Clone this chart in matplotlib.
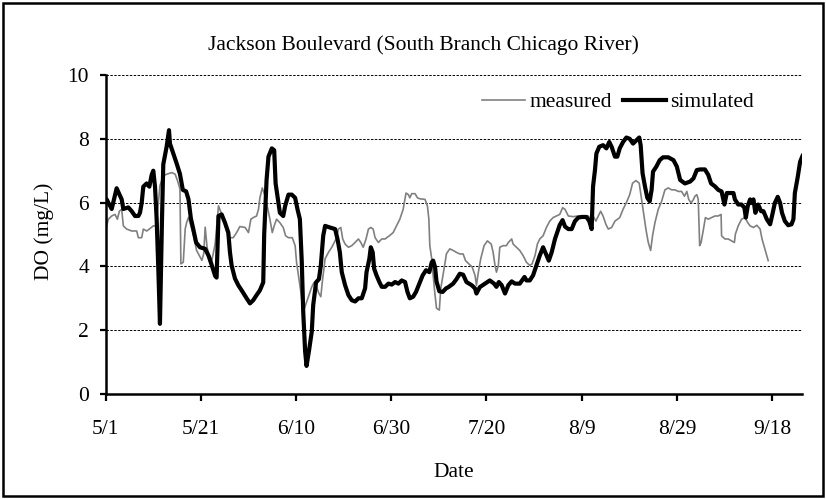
#!/usr/bin/env python3
# DO at Jackson Boulevard, measured vs simulated (Excel-style line chart)

import numpy as np
import matplotlib
matplotlib.use("Agg")
import matplotlib.pyplot as plt
from matplotlib.patches import Rectangle

# ----------------------------- data (days after 5/1, DO mg/L) ----------------

sim_day = [0.0, 0.2, 1.26, 2.3, 3.36, 3.7, 4.76, 5.46, 6.16, 6.86, 7.2, 7.56, 7.9, 8.6,
           9.17, 9.66, 10.0, 10.36, 10.7, 11.06, 11.4, 11.83, 12.1, 12.8, 13.3, 13.5,
           14.2, 14.9, 15.6, 16.2, 16.9, 17.4, 17.9, 18.4, 19.0, 19.8, 20.9, 21.6,
           22.3, 23.0, 23.3, 23.7, 24.36, 25.06, 25.76, 26.11, 26.46, 27.16, 27.86,
           28.56, 29.61, 30.31, 31.0, 31.7, 32.4, 33.1, 33.3, 33.8, 34.2, 34.9, 35.4,
           35.7, 36.3, 36.6, 37.3, 37.7, 38.4, 39.1, 39.8, 40.3, 40.8, 41.2, 41.5,
           41.9, 42.2, 42.7, 43.3, 43.6, 44.2, 44.8, 45.2, 45.7, 46.1, 47.1, 48.2,
           48.7, 49.2, 49.6, 50.3, 51.0, 51.7, 52.4, 53.1, 53.8, 54.5, 54.8, 55.4,
           55.7, 56.1, 56.4, 56.9, 57.5, 58.0, 58.7, 59.4, 60.1, 60.8, 61.5, 62.2,
           62.9, 63.4, 63.9, 64.6, 65.2, 65.9, 66.6, 67.3, 68.0, 68.5, 68.8, 69.2,
           69.5, 70.1, 70.8, 71.5, 72.0, 73.0, 73.7, 74.4, 75.1, 75.8, 76.9, 77.6,
           77.9, 78.6, 79.7, 80.7, 81.6, 82.1, 82.6, 83.2, 83.9, 84.6, 85.3, 86.0,
           87.0, 88.0, 88.4, 89.1, 89.8, 90.5, 91.2, 91.9, 92.5, 93.1, 93.7, 94.4,
           95.1, 95.4, 96.0, 96.5, 97.2, 97.9, 98.6, 99.3, 100.0, 101.0, 101.6,
           102.1, 102.4, 102.8, 103.1, 103.7, 104.5, 105.2, 105.8, 106.3, 107.0,
           107.5, 108.0, 108.7, 109.4, 110.1, 110.8, 111.5, 112.1, 112.4, 112.8,
           113.3, 113.8, 114.3, 114.7, 115.0, 115.7, 116.4, 117.1, 118.2, 119.3,
           120.0, 120.7, 121.7, 122.8, 123.5, 124.2, 124.9, 125.9, 126.6, 127.2,
           128.0, 128.7, 129.4, 130.0, 130.5, 131.2, 131.9, 132.2, 132.9, 133.6,
           134.2, 134.5, 134.9, 135.4, 135.7, 136.1, 136.5, 137.1, 137.7, 138.2,
           138.9, 139.6, 140.0, 140.6, 141.2, 141.7, 142.1, 142.7, 143.4, 144.1,
           144.5, 144.8, 145.4, 145.9, 146.4]
sim_do = [6.1, 6.1, 5.8, 6.45, 6.1, 5.8, 5.85, 5.73, 5.58, 5.58, 5.68, 5.99, 6.5, 6.6,
          6.5, 6.87, 7.0, 6.5, 5.5, 3.9, 2.2, 5.5, 7.2, 7.75, 8.27, 7.85,
          7.54, 7.23, 6.9, 6.4, 6.35, 6.1, 5.5, 5.17, 4.75, 4.6, 4.55, 4.34,
          4.03, 3.7, 3.65, 5.58, 5.63, 5.37, 5.06, 4.44, 4.03, 3.62, 3.41,
          3.25, 3.0, 2.84, 2.94, 3.1, 3.25, 3.5, 5.0, 6.71, 7.44, 7.7, 7.64,
          6.6, 5.99, 5.68, 5.58, 5.89, 6.25, 6.25, 6.15, 5.79, 5.48, 4.13, 2.58,
          1.34, 0.88, 1.34, 1.96, 2.79, 3.5, 3.6, 4.03, 4.96, 5.27, 5.22, 5.17,
          4.86, 4.44, 3.82, 3.41, 3.1, 2.94, 2.9, 3.0, 3.0, 3.31, 3.82, 4.24,
          4.6, 4.44, 3.93, 3.72, 3.51, 3.36, 3.36, 3.46, 3.43, 3.51, 3.46, 3.56,
          3.51, 3.2, 3.0, 3.05, 3.2, 3.46, 3.72, 3.88, 3.82, 4.13, 4.18, 3.98,
          3.53, 3.22, 3.2, 3.31, 3.35, 3.46, 3.6, 3.77, 3.74, 3.51, 3.41, 3.31,
          3.15, 3.35, 3.46, 3.56, 3.46, 3.36, 3.51, 3.41, 3.15, 3.41, 3.53, 3.46,
          3.46, 3.67, 3.56, 3.56, 3.72, 4.03, 4.34, 4.6, 4.39, 4.18, 4.44, 4.86,
          5.17, 5.3, 5.45, 5.25, 5.17, 5.17, 5.42, 5.53, 5.55, 5.55, 5.42,
          5.17, 6.51, 7.02, 7.54, 7.75, 7.8, 7.7, 7.9, 7.75, 7.44,
          7.44, 7.7, 7.9, 8.04, 8.0, 7.85, 7.95, 8.04, 7.8, 6.92,
          6.51, 6.15, 6.04, 6.4, 6.97, 7.13, 7.33, 7.42, 7.42, 7.33,
          7.13, 6.71, 6.6, 6.66, 6.76, 7.02, 7.04, 7.04, 6.87, 6.6,
          6.51, 6.4, 6.35, 5.94, 6.3, 6.3, 6.3, 6.1, 5.94, 5.94,
          5.84, 5.53, 5.89, 6.1, 5.99, 6.1, 5.68, 5.94, 5.73, 5.73,
          5.48, 5.32, 5.58, 5.99, 6.18, 5.99, 5.68, 5.42, 5.29, 5.32,
          5.48, 6.3, 6.8, 7.28, 7.46]

meas_day = [0.0, 0.56, 1.26, 1.96, 2.45, 2.87, 3.36, 3.71, 4.41, 5.46, 6.51, 6.86, 7.56,
            7.91, 8.61, 9.17, 10.0, 10.6, 11.4, 12.1, 12.8, 13.9, 14.6, 15.1, 15.6,
            15.8, 16.3, 16.7, 17.0, 17.4, 18.4, 19.1, 19.8, 20.2, 20.6, 20.9, 21.3,
            21.6, 22.3, 23.0, 23.7, 24.2, 24.7, 25.8, 26.8, 27.5, 28.2, 29.3, 30.0,
            30.5, 31.0, 31.7, 32.1, 32.4, 32.9, 33.5, 34.0, 34.5, 35.0, 35.4, 35.9,
            36.6, 37.3, 37.8, 38.4, 39.2, 39.8, 40.1, 40.6, 41.0, 41.5, 42.0, 42.7,
            43.3, 43.8, 44.3, 44.8, 45.2, 45.5, 46.1, 46.8, 47.5, 48.4, 48.9, 49.4,
            49.8, 50.3, 51.0, 51.7, 52.4, 53.1, 53.6, 54.1, 54.7, 55.2, 55.7, 56.2,
            56.6, 57.3, 58.0, 58.7, 59.6, 60.4, 61.1, 61.8, 62.5, 63.1, 63.6, 63.9,
            64.3, 65.0, 65.5, 66.0, 67.1, 67.6, 67.9, 68.1, 68.5, 68.8, 69.2, 69.5,
            70.1, 70.4, 71.1, 71.6, 72.3, 73.0, 73.7, 74.4, 75.1, 75.6, 76.3, 77.0,
            77.6, 77.9, 78.3, 78.8, 79.5, 80.2, 81.0, 81.4, 81.8, 82.1, 82.5, 82.8,
            83.5, 84.2, 84.6, 85.3, 85.6, 86.3, 87.0, 87.7, 88.4, 89.1, 89.6, 90.2,
            90.7, 91.2, 91.9, 92.6, 93.3, 94.0, 94.7, 95.4, 96.0, 96.5, 97.2, 98.2,
            99.3, 100.3, 101.4, 101.9, 102.4, 103.0, 103.5, 104.0, 104.5, 105.1,
            105.6, 106.3, 107.0, 108.0, 108.7, 109.4, 110.1, 110.7, 111.4, 112.1,
            112.5, 112.9, 113.5, 114.0, 114.5, 114.9, 115.4, 116.1, 116.8, 117.5,
            118.2, 118.9, 119.6, 120.3, 121.0, 121.6, 122.1, 122.5, 123.0, 123.5,
            123.8, 124.2, 124.5, 124.8, 125.1, 125.6, 126.0, 126.6, 127.3, 128.0,
            128.7, 129.3, 129.4, 130.1, 130.8, 131.5, 132.1, 132.3, 132.9, 133.6,
            134.3, 134.9, 135.4, 136.1, 136.8, 137.5, 137.9, 138.5, 139.2]
meas_do = [5.17, 5.48, 5.58, 5.63, 5.48, 5.73, 5.79, 5.27, 5.17, 5.11, 5.11, 4.9, 4.9,
           5.17, 5.11, 5.17, 5.27, 5.27, 6.53, 6.84, 6.89, 6.94, 6.89, 6.68, 6.43,
           4.08, 4.13, 5.17, 5.37, 5.54, 5.0, 4.5, 4.3, 4.19, 4.4, 5.23, 4.6,
           4.4, 4.19, 4.7, 5.9, 5.7, 5.48, 4.9, 4.9, 5.06, 5.25, 5.22, 5.06,
           5.48, 5.53, 5.58, 5.79, 6.15, 6.46, 6.2, 5.84, 5.48, 5.06, 5.27, 5.48,
           5.37, 5.22, 4.96, 4.9, 4.9, 4.65, 4.13, 3.62, 3.2, 2.58, 2.79, 3.1,
           3.36, 3.5, 3.36, 3.15, 3.05, 3.5, 4.24, 4.44, 4.6, 4.86, 5.17, 5.22,
           4.86, 4.7, 4.6, 4.65, 4.75, 4.86, 4.75, 4.6, 4.86, 5.17, 5.22, 5.17,
           4.9, 4.75, 4.86, 4.86, 4.96, 5.06, 5.27, 5.48, 5.79, 6.3, 6.25, 6.15,
           6.28, 6.28, 6.15, 6.12, 6.1, 5.89, 5.48, 4.65, 4.24, 3.72, 3.1, 2.69,
           2.63, 3.31, 3.93, 4.4, 4.55, 4.5, 4.44, 4.39, 4.39, 4.18, 4.08, 3.98,
           3.72, 3.41, 3.82, 4.24, 4.65, 4.8, 4.7, 4.44, 4.03, 3.82, 4.03, 4.6,
           4.65, 4.65, 4.75, 4.86, 4.7, 4.6, 4.5, 4.34, 4.13, 4.03, 4.08, 4.34,
           4.7, 4.86, 4.96, 5.22, 5.42, 5.53, 5.58, 5.63, 5.84, 5.79, 5.58, 5.56,
           5.58, 5.56, 5.58, 5.48, 5.58, 5.42, 5.58, 5.73, 5.58, 5.32,
           5.17, 5.22, 5.42, 5.53, 5.79, 6.0, 6.25, 6.61, 6.69, 6.61,
           6.2, 5.79, 5.17, 4.75, 4.5, 4.96, 5.37, 5.79, 6.04, 6.4,
           6.46, 6.4, 6.4, 6.35, 6.35, 6.2, 6.35, 6.1, 5.99, 6.1,
           6.2, 6.25, 6.1, 4.65, 4.75, 5.17, 5.53, 5.48, 5.53, 5.58,
           5.58, 5.63, 4.96, 4.86, 4.86, 4.8, 4.75, 5.01, 5.27, 5.48,
           5.53, 5.37, 5.27, 5.22, 5.29, 5.17, 4.86, 4.55, 4.18]

tick_days = [0, 20, 40, 60, 80, 100, 120, 140]
tick_labels = ["5/1", "5/21", "6/10", "6/30", "7/20", "8/9", "8/29", "9/18"]
y_ticks = [0, 2, 4, 6, 8, 10]

# ----------------------------- figure ----------------------------------------

plt.rcParams["font.family"] = ["Liberation Serif", "DejaVu Serif"]
FS = 15.5

W, H = 826, 499
fig = plt.figure(figsize=(W / 100, H / 100), dpi=100)
ax = fig.add_axes([105.7 / W, 1 - 394 / H, (802 - 105.7) / W, (394 - 75) / H])

# dotted horizontal gridlines
for yv in y_ticks[1:]:
    ax.axhline(yv, color="black", lw=0.7, ls=(0, (2.5, 1.5)), zorder=1)

ax.plot(meas_day, meas_do, color="#808080", lw=1.2, label="measured", zorder=2)
ax.plot(sim_day, sim_do, color="black", lw=3.0, label="simulated", zorder=3,
        solid_joinstyle="round")

ax.set_xlim(0, 146.3)
ax.set_ylim(0, 10)
ax.set_xticks(tick_days)
ax.set_xticklabels(tick_labels)
ax.set_yticks(y_ticks)
ax.tick_params(axis="x", length=5, width=1.6, pad=14, labelsize=FS)
ax.tick_params(axis="y", length=4, width=1.6, pad=8, labelsize=FS)
for s in ["top", "right"]:
    ax.spines[s].set_visible(False)
for s in ["left", "bottom"]:
    ax.spines[s].set_linewidth(1.8)

fig.text(423 / W, 1 - 50 / H, "Jackson Boulevard (South Branch Chicago River)",
         ha="center", va="baseline", fontsize=FS)
fig.text(454 / W, 1 - 477 / H, "Date", ha="center", va="baseline", fontsize=FS)
fig.text(44 / W, 1 - 231 / H, "DO (mg/L)", ha="center", va="center",
         rotation=90, fontsize=FS)

ax.legend(loc="center left", bbox_to_anchor=(482 / W, 1 - 102 / H),
          bbox_transform=fig.transFigure, ncol=2, frameon=False, fontsize=FS,
          borderpad=0, borderaxespad=0, handlelength=2.0, handletextpad=0.2,
          columnspacing=0.5)

# outer chart border
fig.patches.append(Rectangle((3 / W, 3 / H), 820 / W, 493 / H, transform=fig.transFigure,
                             fill=False, ec="black", lw=1.8))

fig.savefig("out.png", dpi=100)
